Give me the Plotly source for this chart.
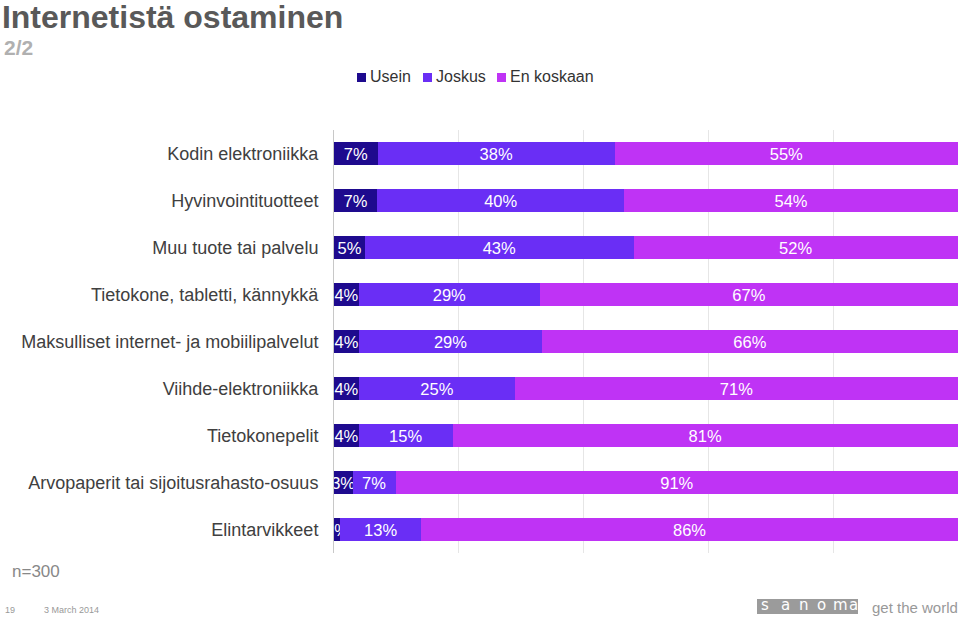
import plotly.graph_objects as go

categories = [
    "Kodin elektroniikka",
    "Hyvinvointituotteet",
    "Muu tuote tai palvelu",
    "Tietokone, tabletti, kännykkä",
    "Maksulliset internet- ja mobiilipalvelut",
    "Viihde-elektroniikka",
    "Tietokonepelit",
    "Arvopaperit tai sijoitusrahasto-osuus",
    "Elintarvikkeet",
]
series_names = ["Usein", "Joskus", "En koskaan"]
usein = [7, 7, 5, 4, 4, 4, 4, 3, 1]
joskus = [38, 40, 43, 29, 29, 25, 15, 7, 13]
en_koskaan = [55, 54, 52, 67, 66, 71, 81, 91, 86]
x_ticks = [0, 20, 40, 60, 80, 100]

colors = ["#1e0a8e", "#6a2ef5", "#bf33f5"]
FONT = "Liberation Sans, Arial, sans-serif"

fig = go.Figure()
for name, vals, col in zip(series_names, [usein, joskus, en_koskaan], colors):
    fig.add_trace(go.Bar(
        y=categories, x=vals, name=name, orientation="h",
        marker=dict(color=col, line=dict(width=0)),
        text=[f"{v}%" for v in vals],
        textposition="inside", insidetextanchor="middle",
        constraintext="none", textangle=0,
        textfont=dict(color="white", size=16.5, family=FONT),
        cliponaxis=True, hoverinfo="skip", showlegend=False,
    ))

L, R, T, B = 334, 1, 130, 66
W, H = 959, 619
pw, ph = W - L - R, H - T - B

def px(x):
    return (x - L) / pw

def py(y):
    return (H - B - y) / ph

fig.update_layout(
    width=W, height=H,
    barmode="stack", barnorm="percent", bargap=0.51,
    margin=dict(l=L, r=R, t=T, b=B),
    paper_bgcolor="white", plot_bgcolor="white",
    font=dict(family=FONT, color="#404040"),
    title=dict(text="<b>Internetistä ostaminen</b>", x=0.002, xanchor="left",
               y=1 - 17 / H, yanchor="middle",
               font=dict(size=32, color="#595959", family=FONT)),
    xaxis=dict(range=[0, 100], tickvals=x_ticks, showticklabels=False,
               showgrid=True, gridcolor="#e6e6e6", gridwidth=1, zeroline=False,
               showline=False, fixedrange=True),
    yaxis=dict(categoryorder="array", categoryarray=categories, autorange="reversed",
               showline=True, linecolor="#c8c8c8", linewidth=1,
               tickfont=dict(size=18, color="#404040", family=FONT),
               ticks="", ticklabelstandoff=11, showgrid=False),
    showlegend=False,
)

ann = [
    dict(text="<b>2/2</b>", x=px(2), y=py(47), xanchor="left", yanchor="middle",
         font=dict(size=21, color="#b0b0b0", family=FONT)),
    dict(text="n=300", x=px(10), y=py(571), xanchor="left", yanchor="middle",
         font=dict(size=17, color="#888888", family=FONT)),
    dict(text="19", x=px(3), y=py(610), xanchor="left", yanchor="middle",
         font=dict(size=9, color="#999999", family=FONT)),
    dict(text="3 March 2014", x=px(42), y=py(610), xanchor="left", yanchor="middle",
         font=dict(size=9, color="#999999", family=FONT)),
    dict(text="get the world", x=px(870), y=py(607), xanchor="left", yanchor="middle",
         font=dict(size=15, color="#999999", family=FONT)),
]
# legend (manual)
legend_x = [357, 423, 497]
for name, col, lx in zip(series_names, colors, legend_x):
    fig.add_shape(type="rect", xref="paper", yref="paper",
                  x0=px(lx), x1=px(lx + 9), y0=py(73), y1=py(82),
                  fillcolor=col, line=dict(width=0))
    ann.append(dict(text=name, x=px(lx + 11), y=py(77), xanchor="left", yanchor="middle",
                    font=dict(size=16, color="#333333", family=FONT)))

logo_x = [765, 785, 803.5, 821.5, 840, 853.5]
for ch, lx in zip("sanoma", logo_x):
    ann.append(dict(text=ch, x=px(lx), y=py(605), xanchor="center", yanchor="middle",
                    font=dict(size=15, color="white", family="DejaVu Sans, sans-serif")))
for a in ann:
    a.update(xref="paper", yref="paper", showarrow=False)
fig.update_layout(annotations=ann)

fig.add_shape(type="rect", xref="paper", yref="paper",
              x0=px(757), x1=px(858), y0=py(599), y1=py(614),
              fillcolor="#9b9b9b", line=dict(width=0), layer="below")

fig.write_html("out.html", config={"displayModeBar": False},
               post_script="document.body.style.margin='0';document.body.style.overflow='hidden';")
